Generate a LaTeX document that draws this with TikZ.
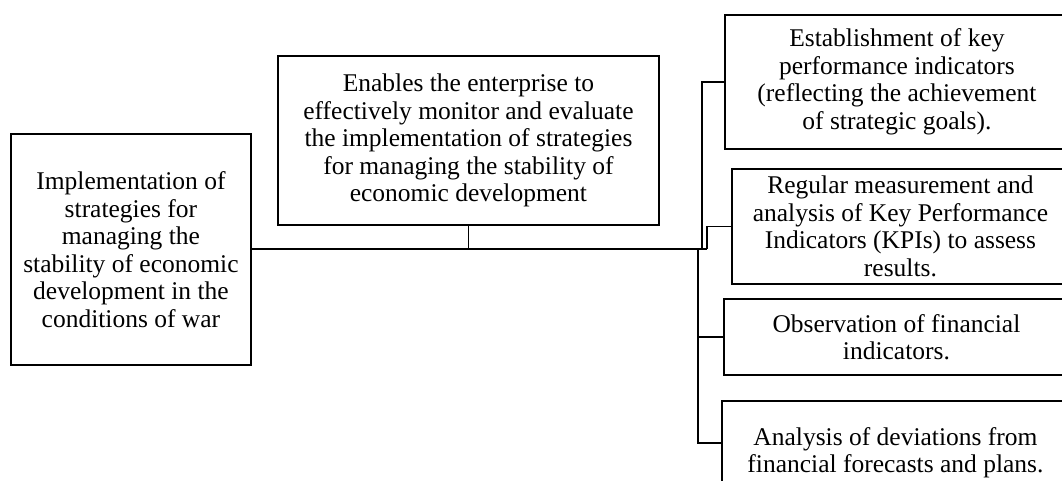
\documentclass[tikz,border=0pt]{standalone}
\usepackage{fontspec}
\setmainfont{Liberation Serif}
\usetikzlibrary{calc}
\begin{document}
\begin{tikzpicture}[x=1pt,y=-1pt,
  box/.style={draw, line width=1.9pt, rectangle, inner sep=0pt,
    anchor=north west, align=center,
    font=\fontsize{25.5}{27.5}\selectfont},
  link/.style={line width=1.8pt}]
\useasboundingbox (0,0) rectangle (1062,480);
\clip (0,0) rectangle (1062,480);
\fill[white] (0,0) rectangle (1062,480);

% main block on the left
\node[box, minimum width=240pt, minimum height=231pt] (goal) at (10,133)
  {Implementation of\\strategies for\\managing the\\stability of economic\\development in the\\conditions of war};

% purpose of the monitoring
\node[box, minimum width=381pt, minimum height=169pt] (purpose) at (277,55)
  {Enables the enterprise to\\effectively monitor and evaluate\\the implementation of strategies\\for managing the stability of\\economic development};

% monitoring activities
\node[box, minimum width=344pt, minimum height=134pt] (kpi) at (724,14)
  {Establishment of key\\performance indicators\\(reflecting the achievement\\of strategic goals).};
\node[box, minimum width=337pt, minimum height=115pt] (measure) at (731,168)
  {Regular measurement and\\analysis of Key Performance\\Indicators (KPIs) to assess\\results.};
\node[box, minimum width=345pt, minimum height=76pt] (observe) at (723,298)
  {Observation of financial\\indicators.};
\node[box, minimum width=347pt, minimum height=104pt] (deviate) at (721,400)
  {Analysis of deviations from\\financial forecasts and plans.};

% trunk junctions
\coordinate (ja) at (702,249);
\coordinate (jb) at (707,249);
\coordinate (jc) at (698,249);
\coordinate (devin) at ($(deviate.north west)+(0,43)$);

% connectors
\draw[link] (goal.east |- jb) -- (jb);
\draw[link] (purpose.south) -- (purpose.south |- jb);
\draw[link] (ja) |- (kpi.west);
\draw[link] (jb) |- (measure.west);
\draw[link] (jc) |- (observe.west);
\draw[link] (jc) |- (devin);
\end{tikzpicture}
\end{document}
